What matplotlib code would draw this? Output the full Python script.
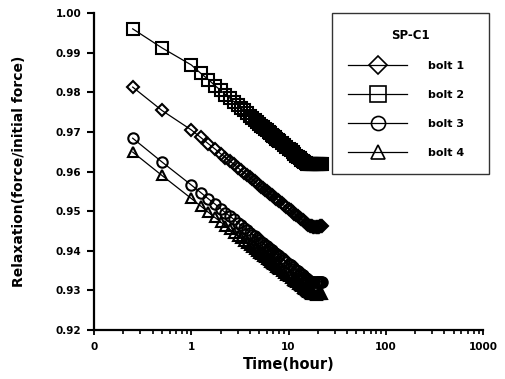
import matplotlib
matplotlib.use("Agg")
import matplotlib.pyplot as plt

times = [0.25, 0.5, 1.0, 1.25, 1.5, 1.75, 2.0, 2.25, 2.5, 2.75, 3.0, 3.25, 3.5, 3.75,
         4.0, 4.25, 4.5, 4.75, 5.0, 5.25, 5.5, 5.75, 6.0, 6.25, 6.5, 6.75, 7.0, 7.25,
         7.5, 7.75, 8.0, 8.5, 9.0, 9.5, 10.0, 10.5, 11.0, 11.5, 12.0, 12.5, 13.0, 13.5,
         14.0, 14.5, 15.0, 15.5, 16.0, 16.5, 17.0, 17.5, 18.0, 18.5, 19.0, 19.5, 20.0,
         20.5, 21.0, 21.5, 22.0]

bolt1 = [0.9813, 0.9754, 0.9705, 0.9686, 0.9670, 0.9657, 0.9645, 0.9635, 0.9626, 0.9618,
         0.9610, 0.9603, 0.9597, 0.9591, 0.9585, 0.9580, 0.9575, 0.9570, 0.9566, 0.9562,
         0.9558, 0.9554, 0.9550, 0.9547, 0.9543, 0.9540, 0.9537, 0.9534, 0.9531, 0.9528,
         0.9525,
         0.9520, 0.9515, 0.9510, 0.9506, 0.9502, 0.9498, 0.9494, 0.9490, 0.9487, 0.9483,
         0.9480, 0.9477, 0.9474, 0.9471, 0.9468, 0.9465, 0.9463,
         0.9462, 0.9462, 0.9461, 0.9461, 0.9461, 0.9460, 0.9461, 0.9461, 0.9462, 0.9462,
         0.9463]

bolt2 = [0.9960, 0.9912, 0.9869, 0.9848, 0.9832, 0.9817, 0.9805, 0.9794, 0.9785, 0.9776,
         0.9768, 0.9760, 0.9754, 0.9747, 0.9741, 0.9736, 0.9731, 0.9726, 0.9721, 0.9716,
         0.9712, 0.9708, 0.9704, 0.9700, 0.9697, 0.9693, 0.9690, 0.9687, 0.9683, 0.9680,
         0.9678,
         0.9672, 0.9667, 0.9662, 0.9657, 0.9653, 0.9648, 0.9644, 0.9640, 0.9637, 0.9633,
         0.9629, 0.9626, 0.9623,
         0.9621, 0.9620, 0.9620, 0.9619, 0.9619, 0.9619, 0.9618, 0.9618, 0.9618, 0.9618,
         0.9618, 0.9618, 0.9618, 0.9619, 0.9619]

bolt3 = [0.9684, 0.9624, 0.9566, 0.9547, 0.9531, 0.9518, 0.9506, 0.9496, 0.9487, 0.9479,
         0.9471, 0.9464, 0.9458, 0.9452, 0.9446, 0.9441, 0.9436, 0.9431, 0.9427, 0.9423,
         0.9419, 0.9415, 0.9411, 0.9408, 0.9404, 0.9401, 0.9398, 0.9395, 0.9392, 0.9389,
         0.9386,
         0.9381, 0.9376, 0.9371, 0.9367, 0.9363, 0.9359, 0.9355, 0.9351, 0.9348, 0.9344,
         0.9341, 0.9338, 0.9335, 0.9332, 0.9329, 0.9326, 0.9324,
         0.9322, 0.9321, 0.9321, 0.9320, 0.9320, 0.9320, 0.9320, 0.9321, 0.9321, 0.9322,
         0.9322]

bolt4 = [0.9649, 0.9590, 0.9532, 0.9513, 0.9497, 0.9484, 0.9473, 0.9463, 0.9454, 0.9446,
         0.9438, 0.9431, 0.9425, 0.9419, 0.9414, 0.9409, 0.9404, 0.9399, 0.9395, 0.9391,
         0.9387, 0.9383, 0.9379, 0.9376, 0.9372, 0.9369, 0.9366, 0.9363, 0.9360, 0.9357,
         0.9355,
         0.9349, 0.9345, 0.9340, 0.9336, 0.9331, 0.9327, 0.9324, 0.9320, 0.9316, 0.9313,
         0.9310, 0.9307, 0.9304, 0.9301, 0.9298, 0.9295, 0.9293,
         0.9291, 0.9290, 0.9290, 0.9290, 0.9289, 0.9289, 0.9290, 0.9290, 0.9290, 0.9291,
         0.9291]

series_labels = ["bolt 1", "bolt 2", "bolt 3", "bolt 4"]
series_markers = ["D", "s", "o", "^"]
series_sizes = [6.5, 8.5, 7.5, 7]

x_ticks = [0.1, 1, 10, 100, 1000]
x_tick_labels = ["0", "1", "10", "100", "1000"]
y_ticks = [0.92, 0.93, 0.94, 0.95, 0.96, 0.97, 0.98, 0.99, 1.00]
y_tick_labels = ["0.92", "0.93", "0.94", "0.95", "0.96", "0.97", "0.98", "0.99", "1.00"]

plt.rcParams['font.family'] = ['DejaVu Sans']
plt.rcParams['font.weight'] = 'bold'

fig = plt.figure(figsize=(5.05, 3.79), dpi=100)
ax = fig.add_axes([94 / 505, 1 - 330 / 379, 389 / 505, 317 / 379])

for vals, lab, mk, ms in zip([bolt1, bolt2, bolt3, bolt4], series_labels,
                             series_markers, series_sizes):
    ax.plot(times, vals, color='black', lw=0.9, marker=mk, ms=ms,
            mfc='none', mec='black', mew=1.5, label=lab)

ax.set_xscale('log')
ax.set_xlim(0.1, 1000)
ax.set_ylim(0.92, 1.00)
ax.set_xticks(x_ticks, labels=x_tick_labels)
ax.set_yticks(y_ticks, labels=y_tick_labels)

for s in ['top', 'right']:
    ax.spines[s].set_visible(False)
for s in ['left', 'bottom']:
    ax.spines[s].set_linewidth(1.6)

ax.tick_params(axis='y', which='major', direction='out', length=5, width=1.5,
               labelsize=7.5, pad=4)
ax.tick_params(axis='x', which='major', direction='out', length=3.5, width=1.3,
               labelsize=7.5, pad=5)
ax.tick_params(axis='x', which='minor', direction='out', length=3, width=1.2)
for lbl in ax.get_xticklabels() + ax.get_yticklabels():
    lbl.set_fontweight('bold')

ax.set_xlabel("Time(hour)", fontsize=10.5, fontweight='bold')
ax.xaxis.set_label_coords(0.5, -0.085)
ax.set_ylabel("Relaxation(force/initial force)", fontsize=10, fontweight='bold')
ax.yaxis.set_label_coords(-0.175, 0.5)

leg = ax.legend(loc='upper left',
                bbox_to_anchor=(332 / 505, 1 - 174 / 379, 157 / 505, 161 / 379),
                bbox_transform=fig.transFigure,
                mode='expand', title="SP-C1", frameon=True, fancybox=False,
                edgecolor='black', markerscale=1.35, handlelength=5.3,
                handletextpad=1.9, labelspacing=1.7, borderpad=1.45,
                borderaxespad=0, prop={'size': 8, 'weight': 'bold'},
                title_fontproperties={'size': 8.5, 'weight': 'bold'})
leg.get_frame().set_linewidth(1.0)
for h in leg.legend_handles:
    h.set_markeredgewidth(1.2)

fig.savefig("out.png", dpi=100)
